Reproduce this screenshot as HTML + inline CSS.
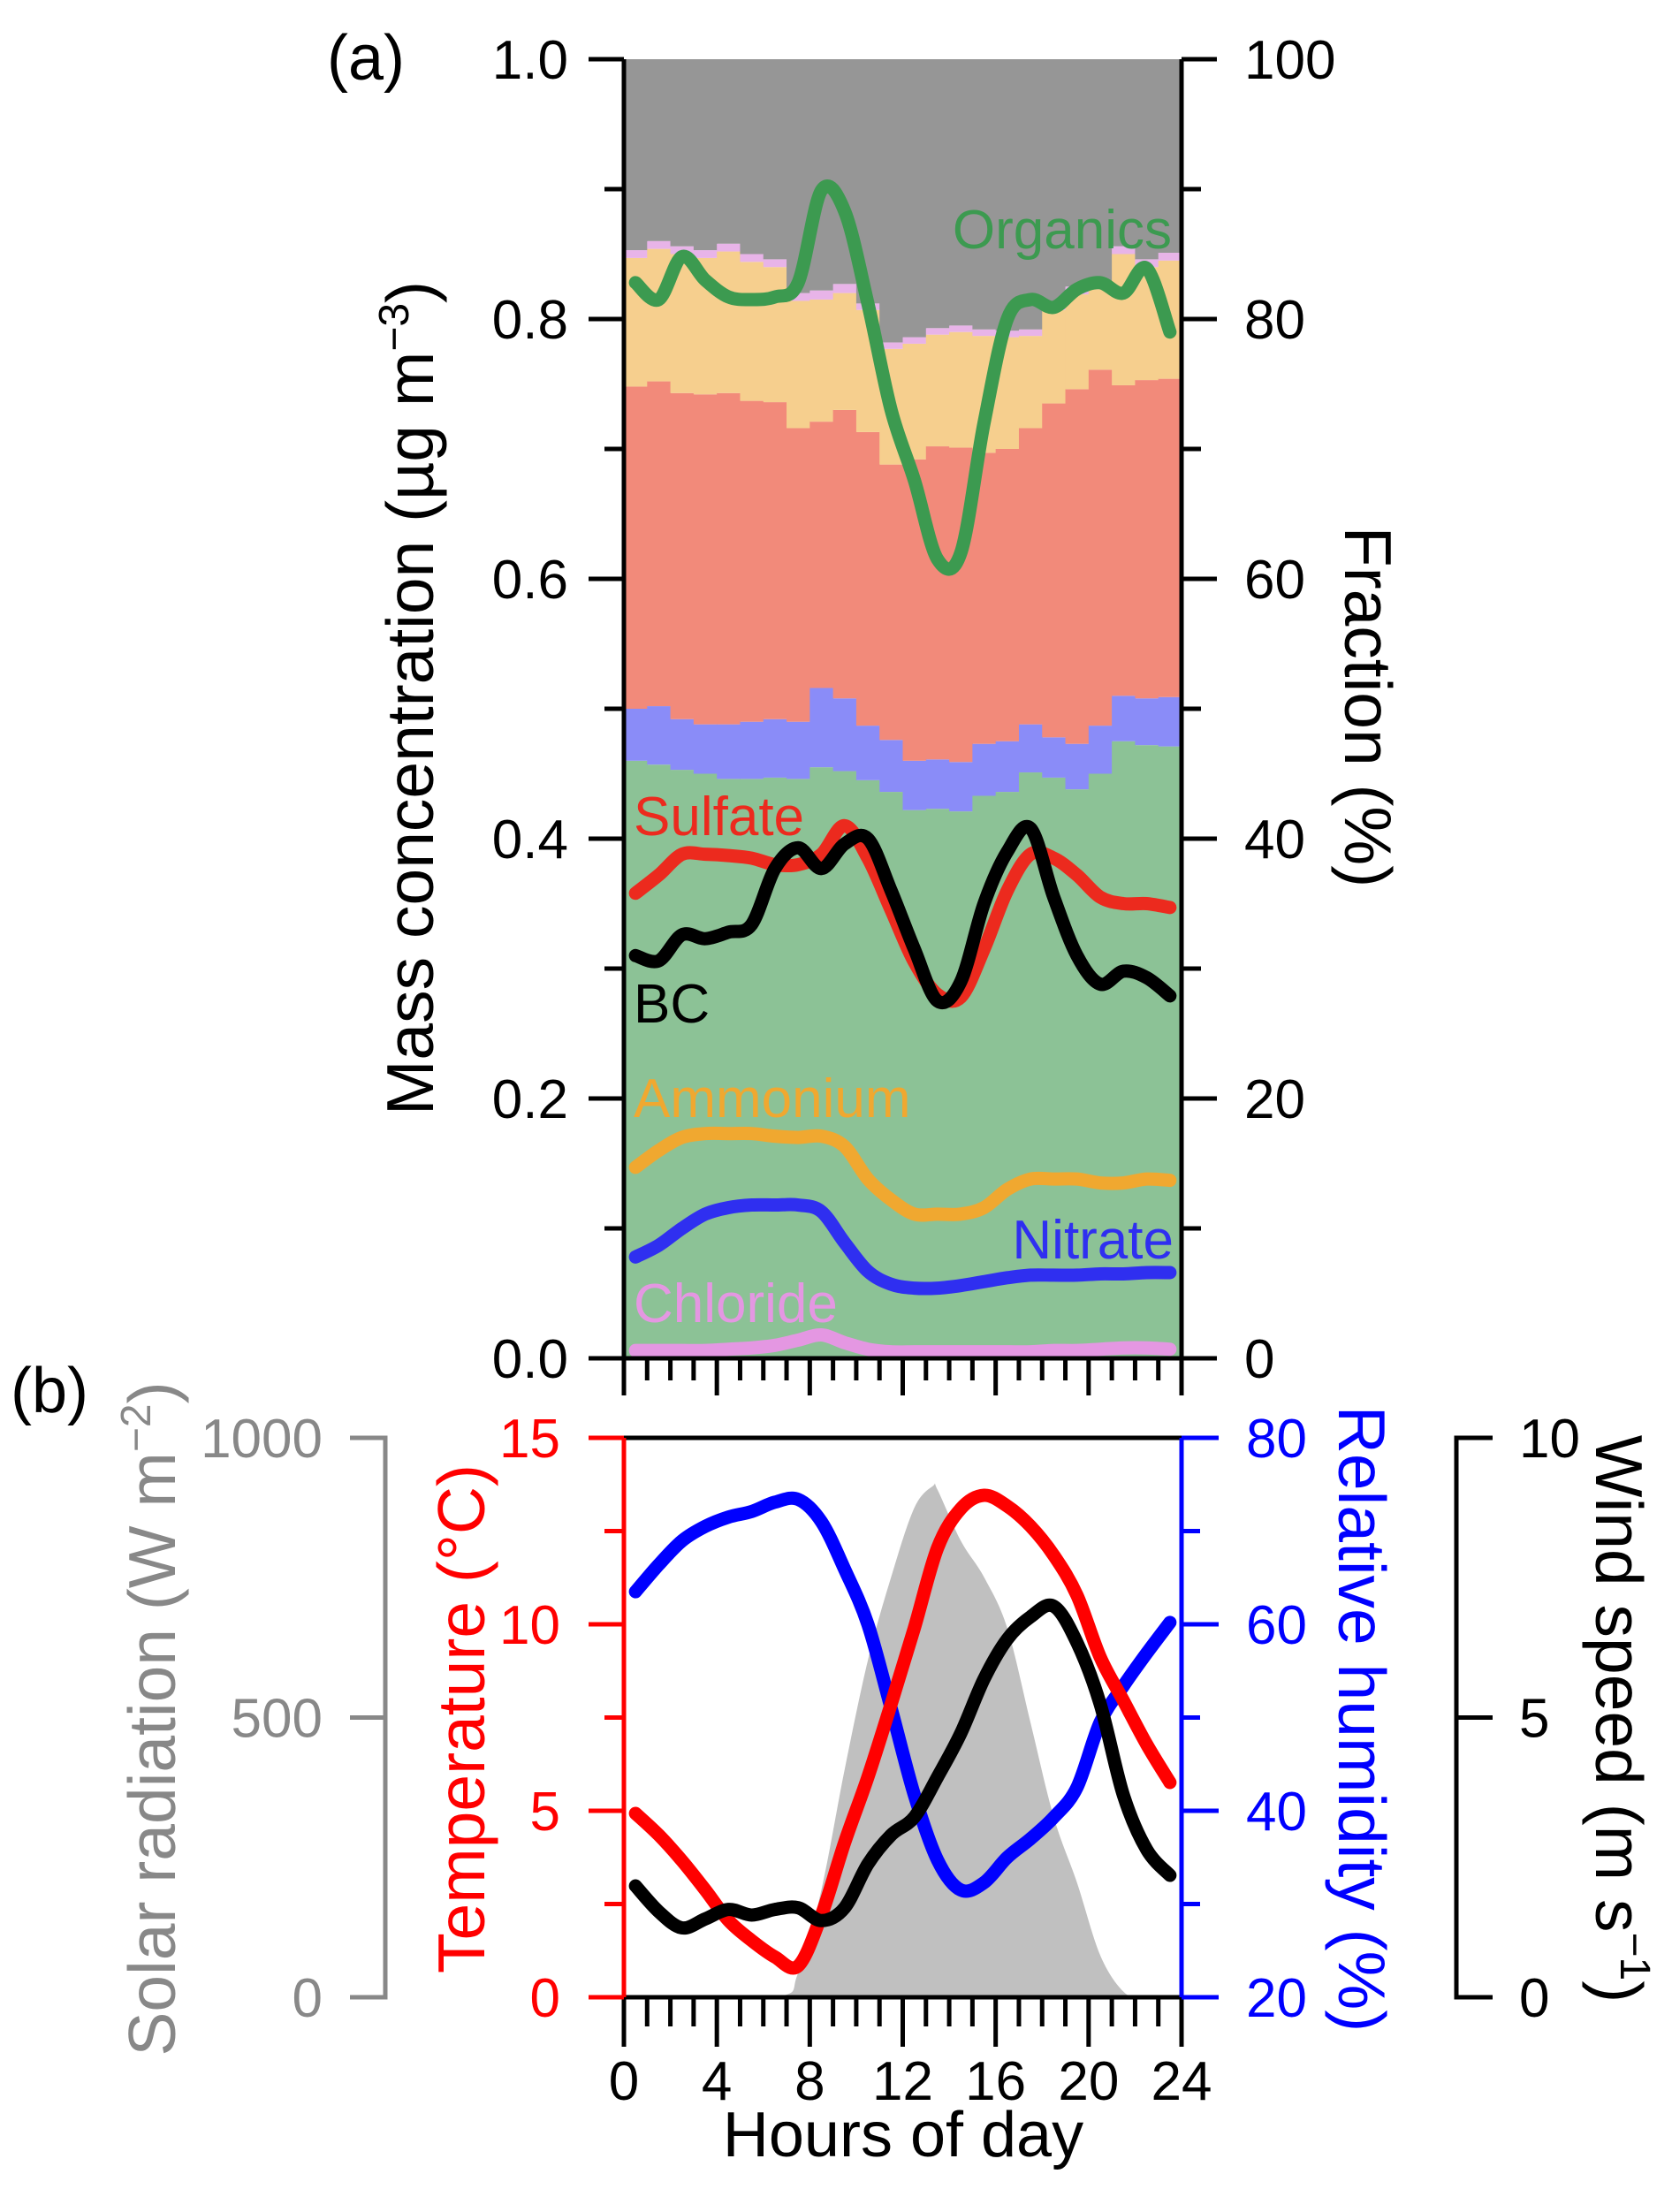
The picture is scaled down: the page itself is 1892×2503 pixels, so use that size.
<!DOCTYPE html>
<html><head><meta charset="utf-8"><style>
html,body{margin:0;padding:0;background:#fff;}
svg{display:block;font-family:"Liberation Sans",Arial,sans-serif;}
</style></head><body>
<svg id="fig" width="1892" height="2503" viewBox="0 0 1892 2503" xmlns="http://www.w3.org/2000/svg">
<g id="pa"></g>
<g id="pb"></g>
</svg>
<script>
// ---------- Panel (a) data ----------
const hourBins = [0,1,2,3,4,5,6,7,8,9,10,11,12,13,14,15,16,17,18,19,20,21,22,23];
const organicsTop = [0.46,0.457,0.453,0.45,0.446,0.446,0.447,0.446,0.455,0.452,0.445,0.436,0.422,0.423,0.421,0.433,0.436,0.451,0.447,0.438,0.45,0.475,0.472,0.471];
const nitrateTop  = [0.50,0.502,0.492,0.488,0.488,0.49,0.492,0.49,0.516,0.508,0.487,0.476,0.46,0.461,0.459,0.473,0.475,0.488,0.478,0.473,0.487,0.51,0.508,0.509];
const sulfateTop  = [0.748,0.752,0.743,0.742,0.743,0.737,0.736,0.716,0.721,0.73,0.713,0.688,0.692,0.702,0.701,0.697,0.70,0.716,0.735,0.746,0.761,0.749,0.753,0.754];
const ammoniumTop = [0.847,0.854,0.85,0.847,0.852,0.844,0.84,0.814,0.815,0.82,0.807,0.777,0.781,0.788,0.79,0.787,0.786,0.787,0.807,0.819,0.823,0.85,0.84,0.845];
const chlorideTop = [0.853,0.86,0.856,0.853,0.858,0.85,0.846,0.82,0.822,0.827,0.812,0.782,0.786,0.793,0.795,0.792,0.791,0.792,0.812,0.825,0.829,0.856,0.846,0.851];
const lineHours = [0.5,1.5,2.5,3.5,4.5,5.5,6.5,7.5,8.5,9.5,10.5,11.5,12.5,13.5,14.5,15.5,16.5,17.5,18.5,19.5,20.5,21.5,22.5,23.5];
const organicsMass = [0.828,0.815,0.848,0.83,0.817,0.815,0.817,0.828,0.899,0.883,0.812,0.73,0.676,0.615,0.62,0.72,0.80,0.815,0.809,0.823,0.828,0.82,0.839,0.79];
const sulfateMass  = [0.358,0.372,0.388,0.388,0.387,0.385,0.38,0.38,0.388,0.41,0.385,0.345,0.305,0.28,0.278,0.315,0.36,0.388,0.385,0.372,0.355,0.35,0.35,0.347];
const bcMass       = [0.31,0.306,0.326,0.323,0.328,0.334,0.377,0.393,0.377,0.396,0.40,0.36,0.315,0.275,0.29,0.35,0.39,0.408,0.355,0.31,0.288,0.298,0.293,0.279];
const ammoniumMass = [0.147,0.16,0.17,0.173,0.173,0.173,0.171,0.17,0.171,0.163,0.138,0.122,0.111,0.111,0.111,0.116,0.13,0.138,0.138,0.138,0.135,0.135,0.138,0.137];
const nitrateMass  = [0.078,0.087,0.10,0.111,0.116,0.118,0.118,0.118,0.113,0.089,0.067,0.057,0.054,0.054,0.056,0.059,0.062,0.064,0.064,0.064,0.065,0.065,0.066,0.066];
const chlorideMass = [0.006,0.006,0.006,0.006,0.007,0.008,0.01,0.014,0.018,0.012,0.007,0.005,0.005,0.005,0.005,0.005,0.005,0.005,0.006,0.006,0.007,0.008,0.008,0.007];
const massTicks = ["0.0","0.2","0.4","0.6","0.8","1.0"];
const fracTicks = ["0","20","40","60","80","100"];
// ---------- Panel (b) data ----------
const tempC   = [4.93,4.35,3.66,2.88,2.06,1.52,1.08,0.84,2.2,4.15,5.9,7.86,9.9,12.05,13.1,13.46,13.17,12.63,11.85,10.78,9.12,7.95,6.78,5.76];
const rhPct   = [63.5,66.4,68.95,70.5,71.5,72.1,73.1,73.4,71.0,65.9,60.0,51.0,41.7,34.7,31.5,32.3,35.0,37.0,39.3,42.5,49.5,53.4,56.9,60.2];
const windMs  = [1.99,1.53,1.24,1.40,1.57,1.47,1.57,1.6,1.37,1.6,2.38,2.9,3.22,3.94,4.72,5.69,6.4,6.8,6.99,6.34,5.24,3.61,2.64,2.18];
const solarHours = [0,6.4,7.5,8.5,9.5,10.5,11.5,12.5,13.3,13.5,14.5,15.5,16.5,17.5,18.5,19.5,20.5,21.5,22.3,24];
const solarWm2   = [0,0,43,192,407,602,751,875,914,907,816,751,660,491,322,205,75,10,0,0];
const tempTicks = ["0","5","10","15"];
const rhTicks = ["20","40","60","80"];
const windTicks = ["0","5","10"];
const solarTicks = ["0","500","1000"];
const hourTicks = ["0","4","8","12","16","20","24"];

const NS="http://www.w3.org/2000/svg";
const X0=706,X1=1337;
const YaT=67,YaB=1537;
const YbT=1627,YbB=2260;
const x=h=>X0+(X1-X0)*h/24;
const ya=v=>YaB-(YaB-YaT)*v;
const yT=v=>YbB-(YbB-YbT)*v/15;
const yRH=v=>YbB-(YbB-YbT)*(v-20)/60;
const yW=v=>YbB-(YbB-YbT)*v/10;
const yS=v=>YbB-(YbB-YbT)*v/1000;
function mk(tag,attrs,parent){const e=document.createElementNS(NS,tag);for(const k in attrs)e.setAttribute(k,attrs[k]);parent.appendChild(e);return e;}
function smooth(pts){let d=`M${pts[0][0]},${pts[0][1]}`;for(let i=0;i<pts.length-1;i++){const p0=pts[Math.max(0,i-1)],p1=pts[i],p2=pts[i+1],p3=pts[Math.min(pts.length-1,i+2)];const c1=[p1[0]+(p2[0]-p0[0])/6,p1[1]+(p2[1]-p0[1])/6],c2=[p2[0]-(p3[0]-p1[0])/6,p2[1]-(p3[1]-p1[1])/6];d+=` C${c1[0]},${c1[1]} ${c2[0]},${c2[1]} ${p2[0]},${p2[1]}`;}return d;}
const pa=document.getElementById('pa'), pb=document.getElementById('pb');

const layers=[[null,organicsTop,'#8cc296','organics'],[organicsTop,nitrateTop,'#8a8cf8','nitrate'],[nitrateTop,sulfateTop,'#f28a7a','sulfate'],[sulfateTop,ammoniumTop,'#f6cf8e','ammonium'],[ammoniumTop,chlorideTop,'#e8b4e8','chloride'],[chlorideTop,null,'#969696','bc']];
hourBins.forEach((h,i)=>{
  layers.forEach(L=>{
    const lo=L[0]?L[0][i]:0, hi=L[1]?L[1][i]:1;
    const r=mk('rect',{x:x(h),y:ya(hi),width:x(h+1)-x(h)+0.6,height:ya(lo)-ya(hi),fill:L[2]},pa);
    
    
  });
});
const mlines=[[chlorideMass,'#e497e2','chloride'],[nitrateMass,'#2f2ff0','nitrate'],[ammoniumMass,'#f0a830','ammonium'],[sulfateMass,'#ec2a1e','sulfate'],[bcMass,'#000','bc'],[organicsMass,'#3c9a50','organics']];
mlines.forEach(L=>{
  const p=mk('path',{d:smooth(lineHours.map((h,i)=>[x(h),ya(L[0][i])])),fill:'none',stroke:L[1],'stroke-width':15,'stroke-linecap':'round','stroke-linejoin':'round'},pa);
  
  
});
const axA=mk('g',{stroke:'#000','stroke-width':5,fill:'none'},pa);


mk('line',{x1:X0,y1:YaT,x2:X0,y2:YaB},axA);
mk('line',{x1:X1,y1:YaT,x2:X1,y2:YaB},axA);
mk('line',{x1:X0-40,y1:YaB,x2:X1+40,y2:YaB},axA);
for(let k=0;k<=10;k++){const v=k/10,maj=k%2==0;
  mk('line',{x1:X0-(maj?40:22),y1:ya(v),x2:X0,y2:ya(v)},axA);
  mk('line',{x1:X1,y1:ya(v),x2:X1+(maj?40:22),y2:ya(v)},axA);}
for(let h=0;h<=24;h++){mk('line',{x1:x(h),y1:YaB,x2:x(h),y2:YaB+(h%4==0?42:25)},axA);}
massTicks.forEach((t,i)=>{const e=mk('text',{x:643,y:ya(i*0.2)+22,'font-size':62,'text-anchor':'end',fill:'#000'},pa);e.textContent=t;
  
  });
fracTicks.forEach((t,i)=>{const e=mk('text',{x:1408,y:ya(i*0.2)+22,'font-size':62,'text-anchor':'start',fill:'#000'},pa);e.textContent=t;
  
  });
</script>
<script>
(function(){
const pa=document.getElementById('pa');
pa.insertAdjacentHTML('beforeend',`
<text x="370" y="90" font-size="72" fill="#000">(a)</text>
<text transform="translate(490,790) rotate(-90)" font-size="75" text-anchor="middle" fill="#000">Mass concentration (µg m<tspan dy="-28" font-size="48">−3</tspan><tspan dy="28">)</tspan></text>
<text transform="translate(1522,800) rotate(90)" font-size="75" text-anchor="middle" fill="#000">Fraction (%)</text>
<text x="1326" y="281" font-size="62" text-anchor="end" fill="#3c9a50">Organics</text>
<text x="717" y="945" font-size="62" fill="#ec2a1e">Sulfate</text>
<text x="717" y="1157" font-size="62" fill="#000">BC</text>
<text x="717" y="1264" font-size="62" fill="#f0a830">Ammonium</text>
<text x="1328" y="1424" font-size="62" text-anchor="end" fill="#2f2ff0">Nitrate</text>
<text x="717" y="1496" font-size="62" fill="#e497e2">Chloride</text>
`);
})();
</script>
<script>
(function(){
const sp=solarHours.map((h,i)=>[x(h),yS(solarWm2[i])]);
const sa=mk('path',{d:smooth(sp)+` L${x(24)},${YbB} L${x(0)},${YbB} Z`,fill:'#c0c0c0',stroke:'none'},pb);


const bl=[[rhPct.map(yRH),'#0000ff','relative-humidity-line'],[tempC.map(yT),'#ff0000','temperature-line'],[windMs.map(yW),'#000','wind-speed-line']];
bl.forEach(L=>{
  const p=mk('path',{d:smooth(lineHours.map((h,i)=>[x(h),L[0][i]])),fill:'none',stroke:L[1],'stroke-width':15,'stroke-linecap':'round','stroke-linejoin':'round'},pb);
  
  
});
const ax=mk('g',{stroke:'#000','stroke-width':5},pb);


mk('line',{x1:X0,y1:YbT,x2:X1,y2:YbT},ax);
mk('line',{x1:X0,y1:YbB,x2:X1,y2:YbB},ax);
for(let h=0;h<=24;h++){mk('line',{x1:x(h),y1:YbB,x2:x(h),y2:YbB+(h%4==0?56:33)},ax);}
hourTicks.forEach((t,i)=>{const e=mk('text',{x:x(i*4),y:2376,'font-size':62,'text-anchor':'middle',fill:'#000'},pb);e.textContent=t;
  
  });
const ta=mk('g',{stroke:'#ff0000','stroke-width':5},pb);


mk('line',{x1:X0,y1:YbT,x2:X0,y2:YbB},ta);
for(let k=0;k<=6;k++){const v=k*2.5;mk('line',{x1:X0-(k%2==0?40:22),y1:yT(v),x2:X0,y2:yT(v)},ta);}
tempTicks.forEach((t,i)=>{const e=mk('text',{x:634,y:yT(i*5)+22,'font-size':62,'text-anchor':'end',fill:'#ff0000'},pb);e.textContent=t;
  
  });
const ra=mk('g',{stroke:'#0000ff','stroke-width':5},pb);


mk('line',{x1:X1,y1:YbT,x2:X1,y2:YbB},ra);
for(let k=0;k<=6;k++){const v=20+k*10;mk('line',{x1:X1,y1:yRH(v),x2:X1+(k%2==0?42:21),y2:yRH(v)},ra);}
rhTicks.forEach((t,i)=>{const e=mk('text',{x:1410,y:yRH(20+i*20)+22,'font-size':62,'text-anchor':'start',fill:'#0000ff'},pb);e.textContent=t;
  
  });
const sx=436;
const sa2=mk('g',{stroke:'#888','stroke-width':5,fill:'none'},pb);


mk('polyline',{points:`396,${YbT} ${sx},${YbT} ${sx},${YbB} 396,${YbB}`},sa2);
mk('line',{x1:396,y1:yS(500),x2:sx,y2:yS(500)},sa2);
solarTicks.forEach((t,i)=>{const e=mk('text',{x:365,y:yS(i*500)+22,'font-size':62,'text-anchor':'end',fill:'#888'},pb);e.textContent=t;
  
  });
const wx=1648;
const wa=mk('g',{stroke:'#000','stroke-width':5,fill:'none'},pb);


mk('polyline',{points:`1689,${YbT} ${wx},${YbT} ${wx},${YbB} 1689,${YbB}`},wa);
mk('line',{x1:wx,y1:yW(5),x2:1689,y2:yW(5)},wa);
windTicks.forEach((t,i)=>{const e=mk('text',{x:1719,y:yW(i*5)+22,'font-size':62,'text-anchor':'start',fill:'#000'},pb);e.textContent=t;
  
  });
pb.insertAdjacentHTML('beforeend',`
<text x="12" y="1598" font-size="72" fill="#000">(b)</text>
<text transform="translate(198,1945) rotate(-90)" font-size="75" text-anchor="middle" fill="#888">Solar radiation (W m<tspan dy="-28" font-size="48">−2</tspan><tspan dy="28">)</tspan></text>
<text transform="translate(548,1945) rotate(-90)" font-size="75" text-anchor="middle" fill="#ff0000">Temperature (°C)</text>
<text transform="translate(1515,1945) rotate(90)" font-size="75" text-anchor="middle" fill="#0000ff">Relative humidity (%)</text>
<text transform="translate(1806,1945) rotate(90)" font-size="75" text-anchor="middle" fill="#000">Wind speed (m s<tspan dy="-28" font-size="48">−1</tspan><tspan dy="28">)</tspan></text>
<text x="1022" y="2440" font-size="72" text-anchor="middle" fill="#000">Hours of day</text>
`);
})();
</script>
</body></html>
